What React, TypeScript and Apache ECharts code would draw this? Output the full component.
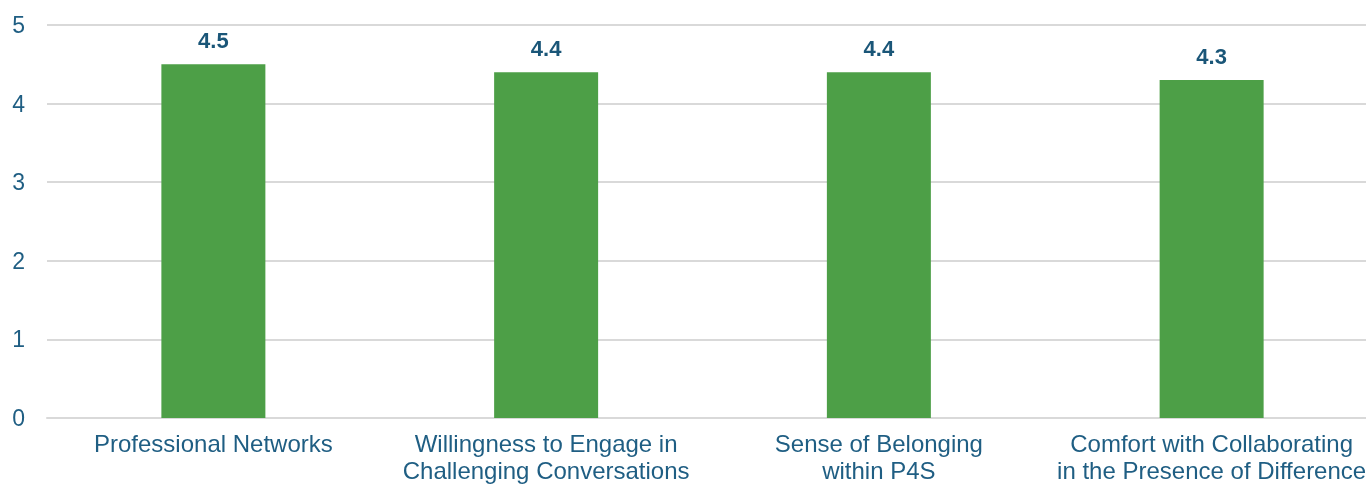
import React, { useEffect, useRef } from "react";
import * as echarts from "echarts";

const categories = [
  "Professional Networks",
  "Willingness to Engage in\nChallenging Conversations",
  "Sense of Belonging\nwithin P4S",
  "Comfort with Collaborating\nin the Presence of Difference",
];
const values = [4.5, 4.4, 4.4, 4.3];
const yTicks = { min: 0, max: 5, interval: 1 };

export default function App() {
  const ref = useRef<HTMLDivElement>(null);
  useEffect(() => {
    if (!ref.current) return;
    document.body.style.overflow = "hidden";
    const chart = echarts.init(ref.current, null, { renderer: "svg" });
    chart.setOption({
      animation: false,
      grid: { left: 47, right: 0, top: 25, bottom: 66, containLabel: false },
      xAxis: {
        type: "category",
        data: categories,
        axisLine: { show: true, lineStyle: { color: "#d9d9d9", width: 2 } },
        axisTick: { show: false },
        axisLabel: {
          color: "#1f5e83",
          fontFamily: "Liberation Sans, Arial, sans-serif",
          fontSize: 24,
          lineHeight: 27,
          margin: 12,
          interval: 0,
        },
      },
      yAxis: {
        type: "value",
        min: yTicks.min,
        max: yTicks.max,
        interval: yTicks.interval,
        axisLine: { show: false },
        axisTick: { show: false },
        splitLine: { lineStyle: { color: "#d9d9d9", width: 2 } },
        axisLabel: {
          color: "#1f5e83",
          fontFamily: "Liberation Sans, Arial, sans-serif",
          fontSize: 23,
          margin: 22,
        },
      },
      series: [
        {
          type: "bar",
          data: values,
          barWidth: 104,
          itemStyle: { color: "#4d9f47" },
          label: {
            show: true,
            position: "top",
            distance: 13,
            color: "#1a5678",
            fontWeight: "bold",
            fontFamily: "Liberation Sans, Arial, sans-serif",
            fontSize: 22,
            formatter: (p: any) => p.value.toFixed(1),
          },
        },
      ],
    });
    return () => chart.dispose();
  }, []);
  return (
    <div
      ref={ref}
      style={{ position: "fixed", left: 0, top: 0, width: 1378, height: 484 }}
    />
  );
}
